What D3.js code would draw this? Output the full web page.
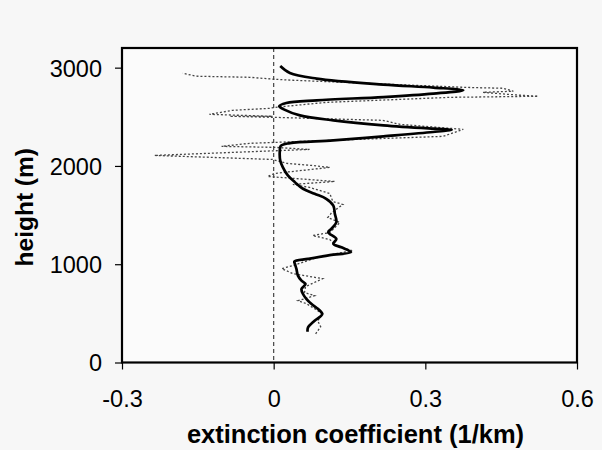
<!DOCTYPE html>
<html>
<head>
<meta charset="utf-8">
<script src="https://cdn.jsdelivr.net/npm/d3@7"></script>
<style>
  html, body { margin: 0; padding: 0; background: #f7f7f7; }
  svg { display: block; font-family: "Liberation Sans", Arial, sans-serif; }
</style>
</head>
<body>
<svg id="chart"></svg>
<script>
const width = 602, height = 450, margin = { top: 48, right: 25, bottom: 87.5, left: 122 };
const plotWidth = width - margin.left - margin.right;
const plotHeight = height - margin.top - margin.bottom;

// Axis ticks
const xTicks = [-0.3, 0, 0.3, 0.6];
const xTickLabels = ["-0.3", "0", "0.3", "0.6"];
const yTicks = [0, 1000, 2000, 3000];
const yTickLabels = ["0", "1000", "2000", "3000"];

// Smoothed profile (solid): extinction (1/km) and height (m)
const smoothExt = [0.067, 0.068, 0.081, 0.096, 0.088, 0.075, 0.065, 0.058, 0.055, 0.063,
  0.055, 0.048, 0.045, 0.042, 0.041, 0.068, 0.111, 0.153, 0.134, 0.118,
  0.124, 0.108, 0.114, 0.124, 0.121, 0.118, 0.104, 0.081, 0.058, 0.042,
  0.028, 0.018, 0.013, 0.012, 0.014, 0.032, 0.118, 0.217, 0.315, 0.352,
  0.316, 0.217, 0.118, 0.052, 0.020, 0.011, 0.025, 0.085, 0.217, 0.316,
  0.375, 0.316, 0.217, 0.085, 0.032, 0.013];
const smoothHeight = [313, 357, 425, 493, 544, 595, 646, 697, 748, 799,
  833, 884, 952, 1003, 1027, 1054, 1093, 1123, 1172, 1207,
  1258, 1325, 1360, 1427, 1513, 1597, 1666, 1717, 1768, 1835,
  1903, 1988, 2056, 2138, 2204, 2232, 2260, 2301, 2345, 2369,
  2379, 2413, 2464, 2515, 2576, 2607, 2640, 2668, 2701, 2736,
  2770, 2797, 2828, 2889, 2946, 3017];

// Raw profile (dotted)
const rawExt = [0.083, 0.093, 0.087, 0.097, 0.065, 0.048, 0.081, 0.061, 0.063, 0.097,
  0.038, 0.016, 0.038, 0.085, 0.155, 0.127, 0.111, 0.077, 0.111, 0.131,
  0.107, 0.115, 0.137, 0.117, 0.111, 0.071, 0.038, 0.121, -0.012, 0.002,
  0.111, 0.075, 0.026, -0.002, -0.236, 0.071, 0.002, -0.103, -0.048, 0.111,
  0.335, 0.375, 0.250, 0.216, 0.004, -0.087, -0.002, -0.127, -0.081, -0.008,
  0.002, 0.105, 0.349, 0.523, 0.462, 0.414, 0.474, 0.454, 0.375, 0.038,
  0.002, -0.048, -0.153, -0.180];
const rawHeight = [292, 364, 425, 496, 598, 629, 680, 711, 772, 853,
  904, 955, 986, 1067, 1139, 1179, 1251, 1292, 1322, 1424,
  1475, 1526, 1608, 1638, 1720, 1781, 1812, 1842, 1893, 1924,
  1985, 2005, 2026, 2066, 2107, 2168, 2189, 2199, 2230, 2260,
  2301, 2372, 2423, 2464, 2494, 2505, 2505, 2525, 2566, 2586,
  2596, 2647, 2698, 2709, 2729, 2749, 2760, 2790, 2800, 2872,
  2882, 2902, 2913, 2943];

const smoothData = smoothExt.map((v, i) => ({ x: v, y: smoothHeight[i] }));
const rawData = rawExt.map((v, i) => ({ x: v, y: rawHeight[i] }));

// Setup SVG
const svg = d3.select("#chart")
    .attr("width", width)
    .attr("height", height);

svg.append("rect")
    .attr("width", width)
    .attr("height", height)
    .attr("fill", "#f7f7f7");

const g = svg.append("g")
    .attr("transform", `translate(${margin.left},${margin.top})`);

// Scales
const xScale = d3.scaleLinear().domain([-0.3, 0.6]).range([0, plotWidth]);
const yScale = d3.scaleLinear().domain([0, 3200]).range([plotHeight, 0]);

// Plot background
g.append("rect")
    .attr("width", plotWidth)
    .attr("height", plotHeight)
    .attr("fill", "#fbfbfb");

// Zero line
g.append("line")
    .attr("x1", xScale(0))
    .attr("x2", xScale(0))
    .attr("y1", 0)
    .attr("y2", plotHeight)
    .attr("stroke", "#444")
    .attr("stroke-width", 1.2)
    .attr("stroke-dasharray", "4,3");

// Lines
const line = d3.line()
    .x(d => xScale(d.x))
    .y(d => yScale(d.y));

g.append("path")
    .datum(rawData)
    .attr("fill", "none")
    .attr("stroke", "#444")
    .attr("stroke-width", 1.3)
    .attr("stroke-dasharray", "2,2")
    .attr("d", line);

g.append("path")
    .datum(smoothData)
    .attr("fill", "none")
    .attr("stroke", "#000")
    .attr("stroke-width", 2.7)
    .attr("stroke-linejoin", "round")
    .attr("d", line.curve(d3.curveCatmullRom.alpha(0.5)));

// Axes
const xAxis = g.append("g")
    .attr("transform", `translate(0,${plotHeight})`)
    .call(d3.axisBottom(xScale)
        .tickValues(xTicks)
        .tickFormat((d, i) => xTickLabels[i])
        .tickSize(7)
        .tickSizeOuter(0));

const yAxis = g.append("g")
    .call(d3.axisLeft(yScale)
        .tickValues(yTicks)
        .tickFormat((d, i) => yTickLabels[i])
        .tickSize(7)
        .tickSizeOuter(0));

[xAxis, yAxis].forEach(a => {
    a.select(".domain").remove();
    a.selectAll("line").attr("stroke", "#000").attr("stroke-width", 1.2);
    a.selectAll("text")
        .attr("fill", "#000")
        .style("font-size", "23.5px")
        .style("font-family", "'Liberation Sans', Arial, sans-serif");
});
xAxis.selectAll("text").attr("y", 28).attr("dy", "0.71em");
yAxis.selectAll("text").attr("x", -20).attr("dy", "0.36em");

// Frame
g.append("rect")
    .attr("width", plotWidth)
    .attr("height", plotHeight)
    .attr("fill", "none")
    .attr("stroke", "#000")
    .attr("stroke-width", 2.2);

// Axis titles
svg.append("text")
    .attr("x", 355.5)
    .attr("y", 443)
    .attr("text-anchor", "middle")
    .style("font-size", "25.5px")
    .style("font-weight", "bold")
    .text("extinction coefficient (1/km)");

svg.append("text")
    .attr("transform", `translate(33,${margin.top + plotHeight / 2 + 2}) rotate(-90)`)
    .attr("text-anchor", "middle")
    .style("font-size", "24.5px")
    .style("font-weight", "bold")
    .text("height (m)");
</script>
</body>
</html>
